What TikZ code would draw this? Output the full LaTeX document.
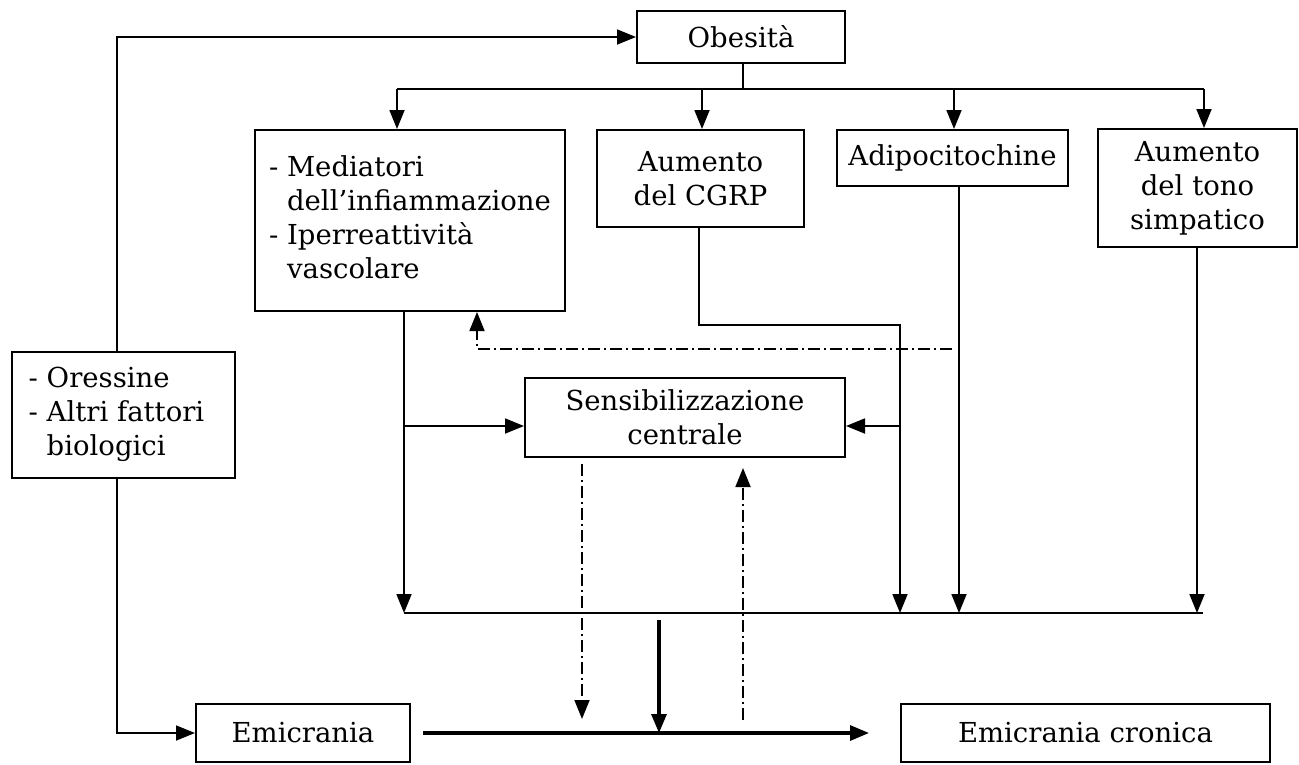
\documentclass[tikz,border=0pt]{standalone}
\usepackage{fontspec}
\setmainfont{DejaVu Serif}
\usetikzlibrary{arrows.meta}
\begin{document}
\begin{tikzpicture}[x=1pt,y=-1pt,
  box/.style={draw,line width=2pt,inner sep=0pt,align=center,font=\fontsize{27.5}{34}\selectfont},
  conn/.style={line width=1.8pt},
  thk/.style={line width=3.2pt},
  dd/.style={line width=1.8pt,dash pattern=on 12pt off 4pt on 2pt off 4pt},
  arr/.style={-{Triangle[length=19pt,width=15pt]}}]
\useasboundingbox (0,0) rectangle (1299,764);
% boxes
\node[box,minimum width=208,minimum height=52] (obes) at (741,37) {Obesità};
\node[box,minimum width=310,minimum height=181] (med) at (410,220.5)
  {\begin{tabular}{@{}l@{\ }l@{}}-&Mediatori\\&dell'infiammazione\\-&Iperreattività\\&vascolare\end{tabular}};
\node[box,minimum width=207,minimum height=97] (cgrp) at (700.5,178.5) {Aumento\\del CGRP};
\node[box,minimum width=231,minimum height=56] (adipo) at (952.5,158) {Adipocitochine};
\node[box,minimum width=199,minimum height=118] (tono) at (1197.5,188) {Aumento\\del tono\\simpatico};
\node[box,minimum width=223,minimum height=126] (ores) at (123.5,415)
  {\begin{tabular}{@{}l@{\ }l@{\hspace{14pt}}}-&Oressine\\-&Altri fattori\\&biologici\end{tabular}};
\node[box,minimum width=320,minimum height=79] (sens) at (685,417.5) {Sensibilizzazione\\centrale};
\node[box,minimum width=214,minimum height=58] (emi) at (303,733) {Emicrania};
\node[box,minimum width=369,minimum height=58] (cron) at (1085.5,733) {Emicrania cronica};
% coordinates
\coordinate (bus) at (743,89);
\coordinate (b1) at (397,89);
\coordinate (b2) at (702,89);
\coordinate (b3) at (954,89);
\coordinate (b4) at (1204,89);
\coordinate (lb1) at (404,613);
\coordinate (lb2) at (900,613);
\coordinate (lb3) at (959,613);
\coordinate (lb4) at (1197,613);
\coordinate (lbend) at (1203,613);
\coordinate (m1) at (404,426);
\coordinate (c1) at (900,325);
\coordinate (c2) at (900,426);
\coordinate (d0) at (952,349);
\coordinate (d1) at (477,349);
\coordinate (t0) at (659,620);
\coordinate (t1) at (659,733);
\coordinate (s1) at (582,719);
\coordinate (s2) at (743,720);
% left loop
\draw[conn,arr] ([xshift=-6.5pt]ores.north) |- (obes.west);
\draw[conn,arr] ([xshift=-6.5pt]ores.south) |- (emi.west);
% top bus
\draw[conn] (obes.south -| bus) -- (bus);
\draw[conn] (b1) -- (b4);
\draw[conn,arr] (b1) -- (b1 |- med.north);
\draw[conn,arr] (b2) -- (b2 |- cgrp.north);
\draw[conn,arr] (b3) -- (b3 |- adipo.north);
\draw[conn,arr] (b4) -- (b4 |- tono.north);
% lower bus
\draw[conn] (lb1) -- (lbend);
\draw[conn,arr] (med.south -| lb1) -- (lb1);
\draw[conn,arr] (m1) -- (m1 -| sens.west);
\draw[conn,arr] ([xshift=-1.5pt]cgrp.south) |- (c1) -- (lb2);
\draw[conn,arr] (c2) -- (c2 -| sens.east);
\draw[conn,arr] (adipo.south -| lb3) -- (lb3);
\draw[conn,arr] (tono.south -| lb4) -- (lb4);
% dash-dot feedback
\draw[dd,arr] (d0) -- (d1) -- (d1 |- med.south);
\draw[dd,arr,shorten <=6pt] (s1 |- sens.south) -- (s1);
\draw[dd,arr,shorten >=10pt] (s2) -- (s2 |- sens.south);
% thick arrows
\draw[thk,arr] (t0) -- (t1);
\draw[thk,arr,shorten <=12pt,shorten >=31pt] (emi.east) -- (cron.west);
\end{tikzpicture}
\end{document}
